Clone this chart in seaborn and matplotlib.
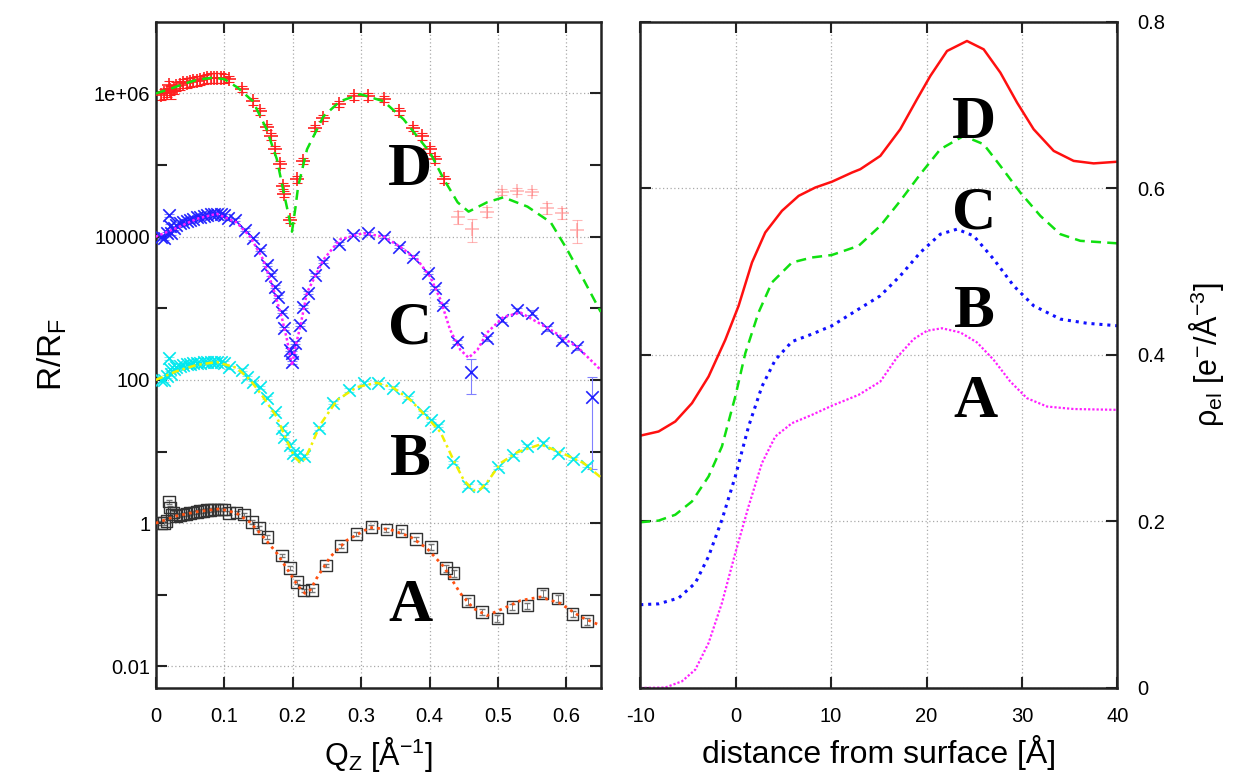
import numpy as np
import matplotlib
matplotlib.use("Agg")
import matplotlib.pyplot as plt
import seaborn as sns
from matplotlib.ticker import FixedLocator, NullFormatter

# ---- reflectivity data (log10 of R/RF, offsets included) ----
d_q = [0.008, 0.012, 0.016, 0.019, 0.021, 0.023, 0.026, 0.03, 0.035, 0.04,
       0.045, 0.05, 0.055, 0.06, 0.065, 0.07, 0.075, 0.08, 0.085, 0.09,
       0.095, 0.1, 0.107, 0.126, 0.142, 0.152, 0.162, 0.168, 0.174, 0.181,
       0.186, 0.188, 0.196, 0.206, 0.215, 0.233, 0.245, 0.267, 0.289, 0.31,
       0.333, 0.355, 0.376, 0.389, 0.401, 0.408, 0.421]
d_log = [5.98, 6.0, 6.02, 6.12, 6.05, 6.0, 6.06, 6.1, 6.12, 6.14,
         6.15, 6.16, 6.17, 6.18, 6.19, 6.2, 6.21, 6.22, 6.22, 6.22,
         6.22, 6.21, 6.2, 6.06, 5.89, 5.75, 5.53, 5.4, 5.22, 5.01,
         4.71, 4.6, 4.24, 4.8, 5.06, 5.52, 5.66, 5.85, 5.96, 5.96,
         5.92, 5.75, 5.52, 5.4, 5.22, 5.08, 4.8]
d_err = [0.15] * 22 + [0.1] * 25

# faded high-q points of D
d2_q = [0.441, 0.462, 0.484, 0.506, 0.528, 0.55, 0.572, 0.594, 0.615]
d2_log = [4.28, 4.11, 4.35, 4.63, 4.64, 4.63, 4.4, 4.33, 4.1]
d2_err = [0.2, 0.35, 0.15, 0.1, 0.1, 0.1, 0.18, 0.18, 0.35]

c_q = [0.008, 0.012, 0.016, 0.019, 0.021, 0.023, 0.026, 0.03, 0.035, 0.04,
       0.045, 0.05, 0.055, 0.06, 0.065, 0.07, 0.075, 0.08, 0.085, 0.09,
       0.095, 0.1, 0.105, 0.116, 0.13, 0.142, 0.152, 0.163, 0.168, 0.174,
       0.178, 0.184, 0.187, 0.196, 0.199, 0.199, 0.204, 0.211, 0.215, 0.223,
       0.233, 0.245, 0.267, 0.288, 0.31, 0.333, 0.355, 0.376, 0.397, 0.408,
       0.419, 0.44, 0.461, 0.484, 0.506, 0.528, 0.55, 0.572, 0.594, 0.615,
       0.637]
c_log = [4.0, 3.98, 4.05, 4.3, 4.15, 4.05, 4.12, 4.16, 4.19, 4.21,
         4.22, 4.24, 4.25, 4.27, 4.28, 4.29, 4.3, 4.31, 4.32, 4.32,
         4.31, 4.3, 4.26, 4.24, 4.1, 3.98, 3.82, 3.61, 3.47, 3.3,
         3.16, 2.95, 2.72, 2.42, 2.38, 2.25, 2.52, 2.77, 3.02, 3.22,
         3.47, 3.65, 3.9, 4.03, 4.05, 4.0, 3.86, 3.72, 3.5, 3.29,
         3.05, 2.53, 2.11, 2.58, 2.84, 2.97, 2.94, 2.72, 2.56, 2.46,
         1.76]
c_err = [0.05] * 52 + [0.5] + [0.08] * 7 + [0.9]

b_q = [0.008, 0.012, 0.016, 0.019, 0.021, 0.023, 0.026, 0.03, 0.035, 0.04,
       0.045, 0.05, 0.055, 0.06, 0.065, 0.07, 0.075, 0.08, 0.085, 0.09,
       0.095, 0.1, 0.107, 0.126, 0.133, 0.142, 0.152, 0.163, 0.174, 0.184,
       0.188, 0.196, 0.201, 0.206, 0.216, 0.238, 0.259, 0.282, 0.304, 0.325,
       0.346, 0.368, 0.39, 0.402, 0.413, 0.434, 0.456, 0.478, 0.5, 0.522,
       0.543, 0.565, 0.587, 0.609, 0.63]
b_log = [2.0, 2.0, 2.05, 2.3, 2.15, 2.08, 2.15, 2.18, 2.2, 2.21,
         2.22, 2.22, 2.23, 2.24, 2.24, 2.25, 2.25, 2.25, 2.25, 2.25,
         2.25, 2.24, 2.18, 2.14, 2.04, 1.97, 1.9, 1.75, 1.55, 1.33,
         1.21, 1.09, 0.98, 0.95, 0.94, 1.33, 1.68, 1.86, 1.96, 1.96,
         1.89, 1.76, 1.55, 1.44, 1.36, 0.85, 0.52, 0.52, 0.78, 0.95,
         1.08, 1.12, 0.98, 0.9, 0.8]

a_q = [0.008, 0.012, 0.016, 0.019, 0.021, 0.023, 0.026, 0.03, 0.035, 0.04,
       0.045, 0.05, 0.055, 0.06, 0.065, 0.07, 0.075, 0.08, 0.085, 0.09,
       0.095, 0.1, 0.107, 0.118, 0.129, 0.141, 0.151, 0.163, 0.184, 0.196,
       0.206, 0.216, 0.228, 0.249, 0.271, 0.293, 0.315, 0.337, 0.359, 0.38,
       0.402, 0.424, 0.435, 0.456, 0.477, 0.499, 0.521, 0.543, 0.565, 0.587,
       0.609, 0.63]
a_log = [0.0, 0.0, 0.03, 0.3, 0.22, 0.12, 0.15, 0.1, 0.11, 0.12,
         0.13, 0.14, 0.15, 0.16, 0.17, 0.17, 0.18, 0.18, 0.19, 0.19,
         0.19, 0.19, 0.14, 0.15, 0.12, 0.02, -0.07, -0.19, -0.45, -0.63,
         -0.82, -0.94, -0.93, -0.59, -0.32, -0.15, -0.05, -0.09, -0.11, -0.22,
         -0.33, -0.63, -0.7, -1.09, -1.24, -1.33, -1.17, -1.15, -0.98, -1.05,
         -1.27, -1.37]
a_err = [0.06] * 40 + [0.1] * 12

# ---- fitted reflectivity curves ----
dfit_q = [0, 0.02, 0.04, 0.06, 0.083, 0.1, 0.12, 0.142, 0.162, 0.177,
          0.186, 0.193, 0.199, 0.204, 0.208, 0.221, 0.245, 0.269, 0.299, 0.333,
          0.362, 0.382, 0.401, 0.421, 0.441, 0.457, 0.484, 0.508, 0.543, 0.577,
          0.601, 0.625, 0.65]
dfit_log = [6.0, 6.06, 6.13, 6.19, 6.22, 6.2, 6.08, 5.89, 5.5, 5.08,
            4.66, 4.35, 4.07, 4.4, 4.7, 5.22, 5.68, 5.89, 5.99, 5.89,
            5.64, 5.4, 5.17, 4.8, 4.48, 4.35, 4.48, 4.55, 4.42, 4.2,
            3.82, 3.4, 2.95]

cfit_q = [0, 0.03, 0.06, 0.089, 0.118, 0.138, 0.157, 0.171, 0.184, 0.192,
          0.199, 0.205, 0.211, 0.221, 0.245, 0.269, 0.303, 0.333, 0.357, 0.382,
          0.401, 0.416, 0.43, 0.445, 0.457, 0.47, 0.484, 0.508, 0.533, 0.577,
          0.616, 0.65]
cfit_log = [4.0, 4.12, 4.25, 4.32, 4.2, 4.0, 3.68, 3.3, 2.88, 2.55,
            2.2, 2.5, 2.74, 3.22, 3.68, 3.96, 4.05, 4.0, 3.86, 3.68,
            3.44, 3.12, 2.7, 2.42, 2.31, 2.42, 2.66, 2.88, 2.94, 2.7,
            2.46, 2.14]

bfit_q = [0, 0.03, 0.06, 0.089, 0.118, 0.138, 0.157, 0.177, 0.191, 0.203,
          0.211, 0.218, 0.226, 0.24, 0.265, 0.294, 0.323, 0.347, 0.372, 0.396,
          0.416, 0.435, 0.45, 0.464, 0.474, 0.484, 0.504, 0.528, 0.562, 0.591,
          0.625, 0.65]
bfit_log = [2.0, 2.12, 2.21, 2.25, 2.17, 2.0, 1.76, 1.48, 1.16, 0.92,
            0.85, 0.9, 1.06, 1.37, 1.72, 1.9, 1.96, 1.89, 1.72, 1.48,
            1.27, 0.88, 0.6, 0.46, 0.47, 0.57, 0.84, 0.99, 1.1, 0.99,
            0.84, 0.64]

afit_q = [0, 0.03, 0.06, 0.094, 0.118, 0.138, 0.157, 0.177, 0.196, 0.208,
          0.218, 0.226, 0.235, 0.255, 0.279, 0.313, 0.343, 0.372, 0.396, 0.421,
          0.445, 0.464, 0.484, 0.508, 0.533, 0.562, 0.591, 0.621, 0.65]
afit_log = [0.0, 0.1, 0.16, 0.2, 0.14, 0.01, -0.19, -0.42, -0.7, -0.88,
            -0.98, -0.93, -0.77, -0.47, -0.24, -0.06, -0.09, -0.19, -0.35, -0.61,
            -0.98, -1.19, -1.29, -1.19, -1.08, -1.03, -1.12, -1.31, -1.43]

# ---- electron density profiles ----
z_d = [-10, -8.08, -6.33, -4.58, -2.84, -1.09, 0.31, 1.71, 3.10, 4.85,
       6.60, 8.34, 10.09, 12.19, 13.06, 15.16, 17.25, 19.0, 20.4, 22.15,
       24.24, 25.99, 27.74, 29.49, 31.23, 33.33, 35.42, 37.52, 40]
rho_d = [0.303, 0.308, 0.320, 0.342, 0.374, 0.418, 0.459, 0.511, 0.547, 0.573,
         0.591, 0.601, 0.608, 0.619, 0.623, 0.639, 0.671, 0.707, 0.735, 0.765,
         0.777, 0.767, 0.739, 0.703, 0.671, 0.645, 0.633, 0.630, 0.632]
z_c = [-10, -8.08, -6.33, -4.58, -2.84, -1.44, -0.04, 1.01, 2.40, 3.80,
       5.90, 8.0, 10.09, 12.89, 15.16, 17.25, 19.35, 21.45, 23.89, 25.99,
       27.74, 29.83, 31.93, 34.03, 36.12, 40]
rho_c = [0.199, 0.201, 0.208, 0.224, 0.254, 0.290, 0.350, 0.402, 0.451, 0.487,
         0.511, 0.517, 0.520, 0.531, 0.555, 0.585, 0.617, 0.647, 0.663, 0.653,
         0.627, 0.595, 0.567, 0.545, 0.537, 0.534]
z_b = [-10, -8.08, -5.98, -4.23, -2.84, -1.44, -0.04, 1.35, 2.75, 4.15,
       5.90, 8.0, 10.09, 12.89, 15.16, 17.25, 19.35, 21.45, 23.20, 24.94,
       27.04, 29.13, 31.23, 34.03, 36.82, 40]
rho_b = [0.100, 0.101, 0.108, 0.126, 0.158, 0.202, 0.254, 0.314, 0.362, 0.394,
         0.416, 0.425, 0.435, 0.455, 0.471, 0.495, 0.523, 0.545, 0.551, 0.543,
         0.515, 0.483, 0.459, 0.443, 0.438, 0.435]
z_a = [-10, -7.38, -5.63, -4.23, -2.84, -1.44, -0.04, 1.35, 2.75, 4.15,
       5.90, 8.0, 10.09, 12.89, 15.16, 16.91, 18.65, 20.05, 21.62, 23.54,
       25.29, 27.04, 28.78, 30.53, 32.63, 35.42, 40]
rho_a = [0.0, 0.0005, 0.008, 0.022, 0.054, 0.102, 0.162, 0.218, 0.270, 0.302,
         0.318, 0.328, 0.339, 0.352, 0.368, 0.397, 0.419, 0.429, 0.432, 0.427,
         0.415, 0.394, 0.368, 0.348, 0.338, 0.335, 0.334]

labels = ["A", "B", "C", "D"]
left_label_q = [0.372, 0.372, 0.372, 0.372]
left_label_y = [10 ** -1.15, 10 ** 0.88, 10 ** 2.72, 10 ** 4.93]
right_label_z = [25.1, 25.0, 25.0, 25.0]
right_label_rho = [0.344, 0.452, 0.570, 0.678]

sns.set_style("white")
plt.rcParams['font.family'] = ['Liberation Sans', 'DejaVu Sans']
plt.rcParams['mathtext.fontset'] = 'custom'
plt.rcParams['mathtext.rm'] = 'Liberation Sans'
plt.rcParams['mathtext.it'] = 'Liberation Sans'
plt.rcParams['axes.unicode_minus'] = False
plt.rcParams['text.color'] = 'black'
plt.rcParams['axes.labelcolor'] = 'black'
plt.rcParams['xtick.color'] = 'black'
plt.rcParams['ytick.color'] = 'black'

fig = plt.figure(figsize=(12.36, 7.8), dpi=100)
ax1 = fig.add_axes([0.126, 0.118, 0.360, 0.854])
ax2 = fig.add_axes([0.518, 0.118, 0.386, 0.854])


def lin(v):
    return 10 ** np.asarray(v, dtype=float)


def draw_data(ax, q, lg, err, marker, color, ecolor, ms, alpha=1.0):
    y = lin(lg)
    yerr = y * np.asarray(err)
    ax.errorbar(q, y, yerr=yerr, fmt="none", ecolor=ecolor, elinewidth=0.8,
                capsize=3.5, capthick=0.8, alpha=alpha, zorder=2)
    sns.scatterplot(x=q, y=y, ax=ax, marker=marker, s=ms, color=color,
                    edgecolor=color, linewidth=1.2, alpha=alpha, zorder=3,
                    legend=False)


# measured reflectivity
draw_data(ax1, d_q, d_log, d_err, "+", "#ff2020", "#ff2020", 90)
draw_data(ax1, d2_q, d2_log, d2_err, "+", "#ff6060", "#ff6060", 90, alpha=0.45)
draw_data(ax1, c_q, c_log, c_err, "x", "#2020ff", "#8080ff", 80)
draw_data(ax1, b_q, b_log, [0.05] * len(b_q), "x", "#00e8ee", "#80f0f0", 80)
ax1.errorbar(a_q, lin(a_log), yerr=lin(a_log) * np.asarray(a_err), fmt="none",
             ecolor="#777777", elinewidth=0.7, capsize=2.5, zorder=2)
ax1.scatter(a_q, lin(a_log), marker="s", s=70, facecolors="none",
            edgecolors="#333333", linewidths=1.0, zorder=3)

# fits
sns.lineplot(x=dfit_q, y=lin(dfit_log), ax=ax1, color="#10e010", lw=1.8,
             linestyle=(0, (4, 2.5)), sort=False, estimator=None, zorder=4)
sns.lineplot(x=cfit_q, y=lin(cfit_log), ax=ax1, color="#ff20ff", lw=1.8,
             linestyle=(0, (1, 1)), sort=False, estimator=None, zorder=4)
sns.lineplot(x=bfit_q, y=lin(bfit_log), ax=ax1, color="#f0f000", lw=1.8,
             linestyle=(0, (3, 1.5, 1, 1.5)), sort=False, estimator=None, zorder=4)
sns.lineplot(x=afit_q, y=lin(afit_log), ax=ax1, color="#ff5010", lw=2.0,
             linestyle=(0, (1, 1.5)), sort=False, estimator=None, zorder=4)

ax1.set_yscale("log")
ax1.set_xlim(0, 0.65)
ax1.set_ylim(0.005, 1e7)
ax1.set_xticks([0, 0.1, 0.2, 0.3, 0.4, 0.5, 0.6])
ax1.set_xticklabels(["0", "0.1", "0.2", "0.3", "0.4", "0.5", "0.6"])
ax1.yaxis.set_major_locator(FixedLocator([1e-2, 1, 1e2, 1e4, 1e6]))
ax1.set_yticklabels(["0.01", "1", "100", "10000", "1e+06"])
ax1.yaxis.set_minor_locator(FixedLocator([1e-1, 1e1, 1e3, 1e5]))
ax1.yaxis.set_minor_formatter(NullFormatter())
ax1.set_xlabel(r"Q$_\mathregular{Z}$ [Å$^{-1}$]", fontsize=22, labelpad=6)
ax1.set_ylabel(r"R/R$_\mathregular{F}$", fontsize=24, labelpad=18)

# density profiles
sns.lineplot(x=z_d, y=rho_d, ax=ax2, color="#ff1010", lw=1.8,
             sort=False, estimator=None)
sns.lineplot(x=z_c, y=rho_c, ax=ax2, color="#10e010", lw=1.8,
             linestyle=(0, (4, 2.5)), sort=False, estimator=None)
sns.lineplot(x=z_b, y=rho_b, ax=ax2, color="#1010ff", lw=2.2,
             linestyle=(0, (1, 1.6)), sort=False, estimator=None)
sns.lineplot(x=z_a, y=rho_a, ax=ax2, color="#ff20ff", lw=1.6,
             linestyle=(0, (1, 0.9)), sort=False, estimator=None)

ax2.set_xlim(-10, 40)
ax2.set_ylim(0, 0.8)
ax2.set_xticks([-10, 0, 10, 20, 30, 40])
ax2.set_yticks([0, 0.2, 0.4, 0.6, 0.8])
ax2.set_yticklabels(["0", "0.2", "0.4", "0.6", "0.8"])
ax2.yaxis.tick_right()
ax2.yaxis.set_label_position("right")
ax2.set_xlabel("distance from surface [Å]", fontsize=23, labelpad=6)
ax2.set_ylabel(r"$\rho_\mathregular{el}$ [e$^{-}$/Å$^{-3}$]", fontsize=22,
               labelpad=16)

for ax in (ax1, ax2):
    ax.grid(True, which="major", color="#aaaaaa", linestyle=(0, (1, 2)), lw=0.9)
    for sp in ax.spines.values():
        sp.set_color("#222222")
        sp.set_linewidth(1.8)
    ax.tick_params(which="both", direction="in", top=True, bottom=True,
                   left=True, right=True, length=8, width=1.5,
                   color="#222222", labelcolor="black", labelsize=14.5)
    ax.tick_params(axis="x", pad=14)
    ax.set_axisbelow(True)
ax1.tick_params(axis="y", pad=4)
ax2.tick_params(axis="y", pad=14, labelleft=False, labelright=True)

# curve letters
letter_font = dict(family=["Liberation Serif", "DejaVu Serif"], weight="bold",
                   fontsize=44, color="black", ha="center", va="center",
                   zorder=6)
for t, xq, yv in zip(labels, left_label_q, left_label_y):
    ax1.text(xq, yv, t, **letter_font)
for t, xz, yr in zip(labels, right_label_z, right_label_rho):
    ax2.text(xz, yr, t, **letter_font)

fig.savefig("out.png", dpi=100)
